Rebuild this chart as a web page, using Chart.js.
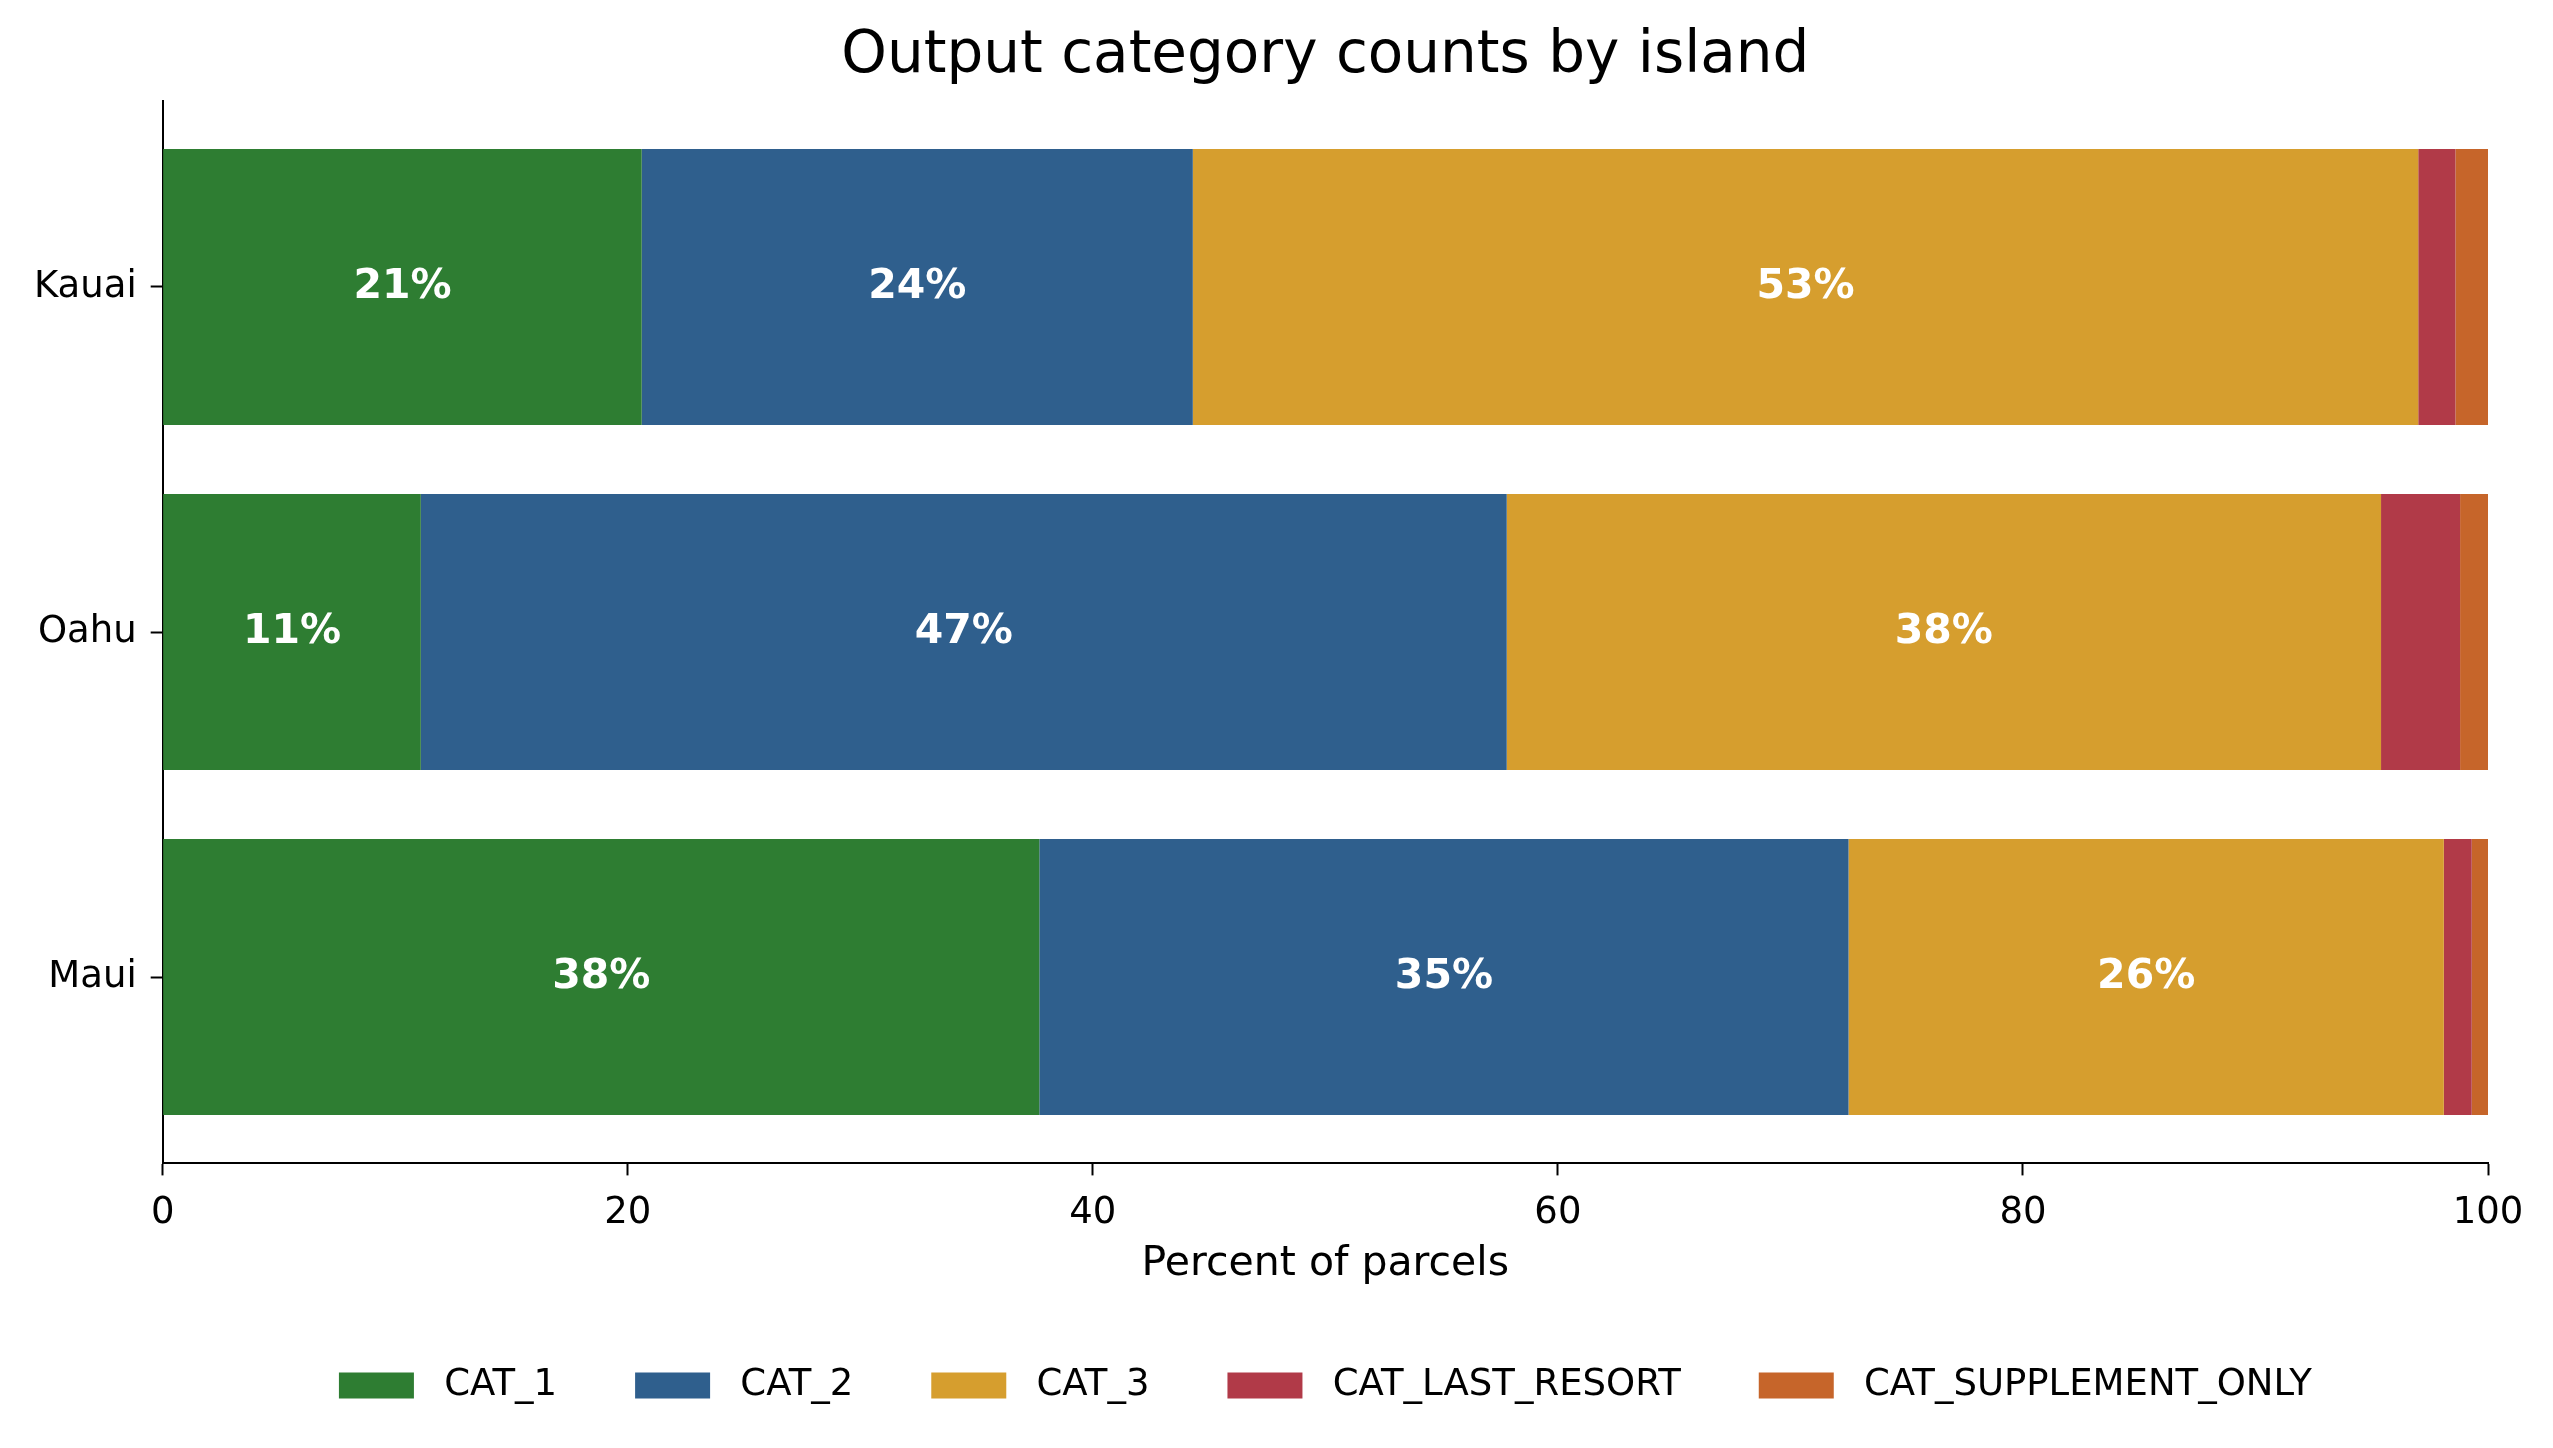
<!DOCTYPE html>
<html>
<head>
<meta charset="utf-8">
<script src="https://cdn.jsdelivr.net/npm/chart.js@4"></script>
<style>
  html, body { margin: 0; padding: 0; background: #fff; }
  canvas { display: block; }
</style>
</head>
<body>
<canvas id="myChart" width="2553" height="1448"></canvas>
<script>
const islands = ['Maui', 'Oahu', 'Kauai'];
const categories = ['CAT_1', 'CAT_2', 'CAT_3', 'CAT_LAST_RESORT', 'CAT_SUPPLEMENT_ONLY'];
const cat1 = [37.7, 11.1, 20.6];
const cat2 = [34.8, 46.7, 23.7];
const cat3 = [25.6, 37.6, 52.7];
const catLastResort = [1.2, 3.4, 1.6];
const catSupplementOnly = [0.7, 1.2, 1.4];
const xTicks = [0, 20, 40, 60, 80, 100];

const colors = ['#2e7d32', '#2f5f8d', '#d69e2e', '#b13a48', '#c6652a'];
const series = [cat1, cat2, cat3, catLastResort, catSupplementOnly];

// white percent labels inside the three big segments
const barLabels = {
    id: 'barLabels',
    afterDatasetsDraw(chart) {
        const c = chart.ctx;
        c.save();
        c.fillStyle = '#ffffff';
        c.font = 'bold 41px "DejaVu Sans"';
        c.textAlign = 'center';
        c.textBaseline = 'middle';
        chart.data.datasets.forEach((ds, i) => {
            if (i > 2) return;
            chart.getDatasetMeta(i).data.forEach((bar, j) => {
                const v = ds.data[j].x;
                c.fillText(Math.round(v) + '%', (bar.x + bar.base) / 2, bar.y);
            });
        });
        c.restore();
    }
};

const ctx = document.getElementById('myChart');
if (ctx) {
    new Chart(ctx, {
        type: 'bar',
        data: {
            datasets: categories.map((name, i) => ({
                label: name,
                data: series[i].map((v, j) => ({ x: v, y: j })),
                backgroundColor: colors[i],
                borderWidth: 0,
                barPercentage: 0.8,
                categoryPercentage: 1.0
            }))
        },
        options: {
            indexAxis: 'y',
            responsive: false,
            devicePixelRatio: 1,
            animation: false,
            layout: { padding: { left: 20, right: 65, top: 0, bottom: 34 } },
            scales: {
                x: {
                    type: 'linear',
                    stacked: true,
                    min: 0,
                    max: 100,
                    afterBuildTicks: (axis) => { axis.ticks = xTicks.map(v => ({ value: v })); },
                    grid: { drawOnChartArea: false, drawTicks: true, tickLength: 12, tickWidth: 2, tickColor: '#000' },
                    border: { display: true, color: '#000', width: 2 },
                    ticks: { color: '#000', font: { family: 'DejaVu Sans', size: 37 }, padding: 16, maxRotation: 0 },
                    title: { display: true, text: 'Percent of parcels', color: '#000', font: { family: 'DejaVu Sans', size: 41 }, padding: { top: -12, bottom: 0 } }
                },
                y: {
                    type: 'linear',
                    stacked: true,
                    offset: false,
                    min: -0.54,
                    max: 2.54,
                    afterBuildTicks: (axis) => { axis.ticks = islands.map((n, i) => ({ value: i })); },
                    grid: { offset: false, drawOnChartArea: false, drawTicks: true, tickLength: 12, tickWidth: 2, tickColor: '#000' },
                    border: { display: true, color: '#000', width: 2 },
                    ticks: { color: '#000', font: { family: 'DejaVu Sans', size: 37 }, padding: 14, callback: (v) => islands[v] }
                }
            },
            plugins: {
                title: {
                    display: true,
                    fullSize: false,
                    text: 'Output category counts by island',
                    color: '#000',
                    font: { family: 'DejaVu Sans', size: 58, weight: 'normal' },
                    padding: { top: 22, bottom: 9 }
                },
                legend: {
                    position: 'bottom',
                    fullSize: false,
                    labels: {
                        boxWidth: 75,
                        boxHeight: 26,
                        padding: 78,
                        color: '#000',
                        font: { family: 'DejaVu Sans', size: 37 },
                        generateLabels: (chart) => Chart.defaults.plugins.legend.labels.generateLabels(chart)
                            .map(item => ({ ...item, text: ' ' + item.text }))
                    }
                },
                tooltip: { enabled: false }
            }
        },
        plugins: [barLabels]
    });
}
</script>
</body>
</html>
